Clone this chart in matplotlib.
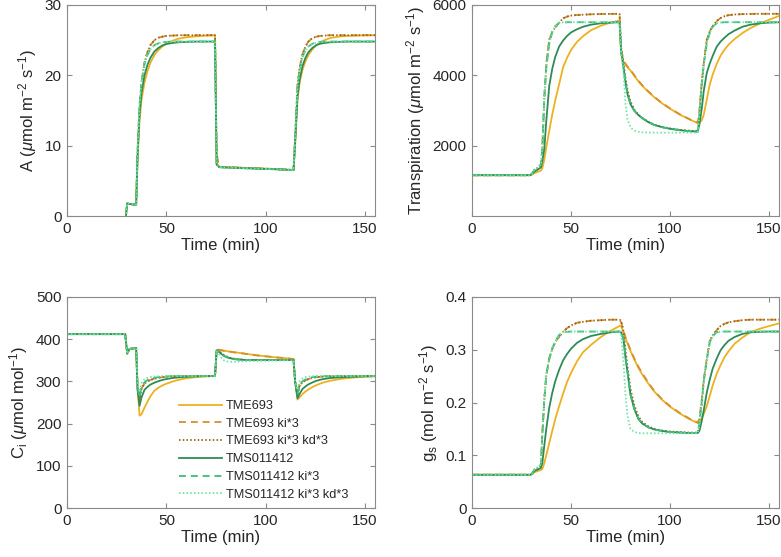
import numpy as np
import matplotlib
matplotlib.use('Agg')
import matplotlib.pyplot as plt

plt.rcParams['font.family'] = ['Liberation Sans', 'DejaVu Sans']
plt.rcParams['mathtext.fontset'] = 'custom'
plt.rcParams['mathtext.rm'] = 'Liberation Sans'
plt.rcParams['mathtext.it'] = 'Liberation Sans:italic'
plt.rcParams['lines.scale_dashes'] = False

# time points (min), grouped by light phase
time = [0, 29.3,
        30.3, 31.5, 34.8,
        35.5, 36.5, 37.5, 39, 40.5, 42, 44, 46, 48, 50, 53, 56, 60, 65, 70, 74.5,
        75.3, 76.5, 77.5, 78.5, 80, 82, 84, 86, 89, 92, 96, 100, 105, 110, 114,
        114.8, 116, 117, 118.5, 120, 121.5, 123.5, 125.5, 127.5, 129.5, 132.5, 136.5, 140.5, 145.5, 150, 155]

labels = ['TME693', 'TME693 ki*3', 'TME693 ki*3 kd*3',
          'TMS011412', 'TMS011412 ki*3', 'TMS011412 ki*3 kd*3']

# ---- A (umol m-2 s-1)
A_tme = [-1.0, -1.0,
         1.8, 1.7, 1.6,
         8.0, 13.5, 16.5, 19.0, 20.6, 21.8, 22.9, 23.6, 24.1, 24.5, 24.9, 25.2, 25.4, 25.55, 25.65, 25.7,
         7.5, 7.0, 6.98, 6.96, 6.94, 6.92, 6.9, 6.88, 6.85, 6.81, 6.77, 6.73, 6.67, 6.61, 6.55,
         10.0, 16.5, 18.8, 20.8, 22.0, 22.9, 23.7, 24.3, 24.7, 25.0, 25.3, 25.5, 25.6, 25.65, 25.7, 25.7]
A_tme_ki = [-1.0, -1.0,
            1.8, 1.7, 1.6,
            9.0, 15.5, 19.0, 21.8, 23.3, 24.3, 25.0, 25.35, 25.5, 25.6, 25.65, 25.7, 25.7, 25.7, 25.7, 25.7,
            9.0, 7.0, 6.98, 6.96, 6.94, 6.92, 6.9, 6.88, 6.85, 6.81, 6.77, 6.73, 6.67, 6.61, 6.55,
            11.0, 18.5, 21.0, 23.0, 24.1, 24.8, 25.3, 25.5, 25.6, 25.65, 25.7, 25.7, 25.7, 25.7, 25.7, 25.7]
A_tme_kikd = [-1.0, -1.0,
              1.8, 1.7, 1.6,
              9.0, 15.5, 19.0, 21.8, 23.3, 24.3, 25.0, 25.35, 25.5, 25.6, 25.65, 25.7, 25.7, 25.7, 25.7, 25.7,
              7.5, 7.0, 6.98, 6.96, 6.94, 6.92, 6.9, 6.88, 6.85, 6.81, 6.77, 6.73, 6.67, 6.61, 6.55,
              11.0, 18.5, 21.0, 23.0, 24.1, 24.8, 25.3, 25.5, 25.6, 25.65, 25.7, 25.7, 25.7, 25.7, 25.7, 25.7]
A_tms = [-1.0, -1.0,
         1.8, 1.7, 1.6,
         8.5, 14.5, 17.5, 20.0, 21.5, 22.5, 23.4, 23.9, 24.25, 24.45, 24.6, 24.7, 24.75, 24.8, 24.8, 24.8,
         7.3, 6.95, 6.93, 6.91, 6.89, 6.87, 6.85, 6.83, 6.8, 6.77, 6.73, 6.69, 6.64, 6.58, 6.52,
         10.5, 17.0, 19.3, 21.3, 22.5, 23.3, 23.9, 24.3, 24.5, 24.6, 24.7, 24.75, 24.8, 24.8, 24.8, 24.8]
A_tms_ki = [-1.0, -1.0,
            1.8, 1.7, 1.6,
            9.0, 15.8, 19.0, 21.6, 22.9, 23.7, 24.3, 24.55, 24.7, 24.75, 24.8, 24.8, 24.8, 24.8, 24.8, 24.8,
            7.3, 6.95, 6.93, 6.91, 6.89, 6.87, 6.85, 6.83, 6.8, 6.77, 6.73, 6.69, 6.64, 6.58, 6.52,
            11.0, 18.3, 20.6, 22.6, 23.6, 24.1, 24.5, 24.65, 24.75, 24.8, 24.8, 24.8, 24.8, 24.8, 24.8, 24.8]
A_tms_kikd = [-1.0, -1.0,
              1.8, 1.7, 1.6,
              9.0, 15.8, 19.0, 21.6, 22.9, 23.7, 24.3, 24.55, 24.7, 24.75, 24.8, 24.8, 24.8, 24.8, 24.8, 24.8,
              7.3, 6.95, 6.93, 6.91, 6.89, 6.87, 6.85, 6.83, 6.8, 6.77, 6.73, 6.69, 6.64, 6.58, 6.52,
              11.0, 18.3, 20.6, 22.6, 23.6, 24.1, 24.5, 24.65, 24.75, 24.8, 24.8, 24.8, 24.8, 24.8, 24.8, 24.8]

# ---- Transpiration (umol m-2 s-1)
E_tme = [1160, 1160,
         1180, 1220, 1290,
         1350, 1600, 1950, 2420, 2880, 3280, 3750, 4230, 4500, 4720, 4950, 5110, 5280, 5410, 5500, 5560,
         4600, 4380, 4300, 4230, 4140, 3980, 3830, 3700, 3530, 3380, 3200, 3050, 2880, 2740, 2640,
         2660, 2720, 2880, 3300, 3730, 4020, 4320, 4560, 4730, 4870, 5030, 5200, 5340, 5480, 5580, 5690]
E_tme_ki = [1160, 1160,
            1200, 1300, 1450,
            1900, 3300, 4300, 5020, 5230, 5360, 5500, 5620, 5670, 5700, 5715, 5725, 5735, 5745, 5747, 5750,
            4700, 4420, 4330, 4250, 4160, 4000, 3850, 3715, 3545, 3390, 3210, 3060, 2890, 2750, 2650,
            3000, 3800, 4350, 5000, 5250, 5400, 5540, 5630, 5680, 5710, 5730, 5740, 5747, 5750, 5750, 5750]
E_tme_kikd = [1160, 1160,
              1200, 1300, 1450,
              1900, 3300, 4300, 5020, 5230, 5360, 5500, 5620, 5670, 5700, 5715, 5725, 5735, 5745, 5747, 5750,
              4800, 4350, 3920, 3580, 3260, 3020, 2880, 2790, 2680, 2600, 2530, 2490, 2450, 2425, 2415,
              2900, 3750, 4330, 5000, 5250, 5400, 5540, 5630, 5680, 5710, 5730, 5740, 5747, 5750, 5750, 5750]
E_tms = [1160, 1160,
         1190, 1260, 1380,
         1550, 1900, 2700, 3700, 4180, 4520, 4820, 4990, 5120, 5220, 5310, 5380, 5440, 5480, 5500, 5510,
         4700, 4220, 3800, 3470, 3180, 2990, 2870, 2780, 2670, 2590, 2525, 2480, 2440, 2410, 2400,
         2600, 3050, 3550, 4060, 4330, 4550, 4810, 4960, 5070, 5170, 5270, 5380, 5440, 5480, 5500, 5510]
E_tms_ki = [1160, 1160,
            1200, 1310, 1460,
            1900, 3400, 4200, 4900, 5230, 5400, 5490, 5505, 5510, 5510, 5510, 5510, 5510, 5510, 5510, 5510,
            4700, 4220, 3800, 3470, 3180, 2990, 2870, 2780, 2670, 2590, 2525, 2480, 2440, 2410, 2400,
            2900, 3750, 4300, 4900, 5200, 5380, 5480, 5500, 5510, 5510, 5510, 5510, 5510, 5510, 5510, 5510]
E_tms_kikd = [1160, 1160,
              1200, 1310, 1460,
              1900, 3400, 4200, 4900, 5230, 5400, 5490, 5505, 5510, 5510, 5510, 5510, 5510, 5510, 5510, 5510,
              4600, 4100, 3200, 2750, 2520, 2430, 2395, 2380, 2372, 2370, 2370, 2370, 2370, 2370, 2370,
              2870, 3750, 4300, 4900, 5200, 5380, 5480, 5500, 5510, 5510, 5510, 5510, 5510, 5510, 5510, 5510]

# ---- Ci (umol mol-1)
Ci_tme = [412, 412,
          366, 377, 379,
          290, 219, 222, 238, 252, 265, 278, 285, 290.5, 294.5, 299.5, 303.5, 307.5, 310.2, 311.8, 312.5,
          374, 375, 374, 373, 372, 370.5, 369, 368, 366, 364, 361.5, 359.5, 357, 355, 353,
          300, 257, 262, 270, 276, 281, 286.5, 291, 295, 298, 301.5, 305, 307.5, 309.7, 311, 312]
Ci_tme_ki = [412, 412,
             366, 377, 379,
             285, 254, 283, 295, 300, 303.5, 306.5, 308.5, 310, 311, 312, 312.5, 312.7, 312.8, 312.8, 312.8,
             374, 375, 374, 373, 372, 370.5, 369, 368, 366, 364, 361.5, 359.5, 357, 355, 353,
             300, 266, 290, 298, 302.5, 305.5, 308.5, 310, 311, 311.5, 312, 312.3, 312.5, 312.7, 312.8, 312.8]
Ci_tme_kikd = [412, 412,
               366, 377, 379,
               285, 254, 283, 295, 300, 303.5, 306.5, 308.5, 310, 311, 312, 312.5, 312.7, 312.8, 312.8, 312.8,
               374, 372, 368, 364, 360, 356, 354, 352.5, 351.5, 351, 350.7, 350.5, 350.5, 350.5, 350.5,
               300, 266, 290, 298, 302.5, 305.5, 308.5, 310, 311, 311.5, 312, 312.3, 312.5, 312.7, 312.8, 312.8]
Ci_tms = [412, 412,
          366, 377, 379,
          280, 242, 262, 280, 287, 292.5, 297, 300.5, 303.5, 305.5, 308, 309.5, 311, 312, 312.5, 312.8,
          373, 370, 366, 362, 358, 355, 353, 352, 351, 350.7, 350.5, 350.5, 350.5, 350.5, 350.5,
          300, 260, 270, 282, 288, 293, 297.5, 301.5, 304, 306, 308, 309.5, 310.5, 311.2, 312, 312.5]
Ci_tms_ki = [412, 412,
             366, 377, 379,
             288, 262, 287, 298, 303, 306, 308.5, 310, 311, 311.8, 312.3, 312.8, 312.8, 312.8, 312.8, 312.8,
             373, 370, 366, 362, 358, 355, 353, 352, 351, 350.7, 350.5, 350.5, 350.5, 350.5, 350.5,
             300, 270, 292, 300, 304.5, 307.5, 310, 311.2, 311.8, 312.3, 312.5, 312.7, 312.8, 312.8, 312.8, 312.8]
Ci_tms_kikd = [412, 412,
               366, 377, 379,
               292, 275, 296, 305, 308.5, 310.5, 311.5, 312, 312.5, 312.8, 312.8, 312.8, 312.8, 312.8, 312.8, 312.8,
               372, 365, 357, 351, 347.5, 346.5, 346.5, 347, 347.5, 348, 348.5, 349, 349.5, 350, 350,
               300, 280, 300, 307, 310, 311.5, 312.3, 312.6, 312.8, 312.8, 312.8, 312.8, 312.8, 312.8, 312.8, 312.8]

# ---- gs (mol m-2 s-1)
gs_tme = [0.063, 0.063,
          0.064, 0.068, 0.072,
          0.074, 0.085, 0.100, 0.123, 0.146, 0.168, 0.193, 0.217, 0.239, 0.256, 0.278, 0.295, 0.309, 0.324, 0.336, 0.345,
          0.345, 0.332, 0.321, 0.312, 0.298, 0.281, 0.266, 0.253, 0.236, 0.221, 0.205, 0.192, 0.179, 0.168, 0.161,
          0.163, 0.170, 0.178, 0.193, 0.212, 0.232, 0.254, 0.271, 0.286, 0.297, 0.311, 0.323, 0.333, 0.340, 0.345, 0.350]
gs_tme_ki = [0.063, 0.063,
             0.065, 0.072, 0.080,
             0.140, 0.205, 0.252, 0.283, 0.302, 0.314, 0.325, 0.334, 0.341, 0.346, 0.351, 0.353, 0.355, 0.356, 0.357, 0.357,
             0.352, 0.336, 0.324, 0.314, 0.300, 0.283, 0.268, 0.255, 0.238, 0.222, 0.206, 0.193, 0.180, 0.169, 0.162,
             0.170, 0.205, 0.243, 0.282, 0.316, 0.327, 0.337, 0.345, 0.349, 0.352, 0.354, 0.356, 0.357, 0.357, 0.357, 0.357]
gs_tme_kikd = [0.063, 0.063,
               0.065, 0.072, 0.080,
               0.140, 0.205, 0.252, 0.283, 0.302, 0.314, 0.325, 0.334, 0.341, 0.346, 0.351, 0.353, 0.355, 0.356, 0.357, 0.357,
               0.355, 0.335, 0.300, 0.268, 0.226, 0.194, 0.174, 0.163, 0.155, 0.150, 0.147, 0.145, 0.144, 0.143, 0.143,
               0.160, 0.200, 0.240, 0.280, 0.315, 0.327, 0.337, 0.345, 0.349, 0.352, 0.354, 0.356, 0.357, 0.357, 0.357, 0.357]
gs_tms = [0.063, 0.063,
          0.064, 0.070, 0.076,
          0.085, 0.118, 0.150, 0.190, 0.218, 0.240, 0.262, 0.280, 0.292, 0.302, 0.313, 0.320, 0.326, 0.330, 0.333, 0.3345,
          0.333, 0.320, 0.285, 0.258, 0.215, 0.187, 0.169, 0.160, 0.153, 0.149, 0.146, 0.144, 0.143, 0.142, 0.142,
          0.146, 0.165, 0.185, 0.218, 0.243, 0.264, 0.283, 0.299, 0.309, 0.317, 0.324, 0.330, 0.333, 0.334, 0.3345, 0.3345]
gs_tms_ki = [0.063, 0.063,
             0.065, 0.073, 0.082,
             0.140, 0.205, 0.252, 0.283, 0.302, 0.316, 0.328, 0.333, 0.334, 0.3345, 0.3345, 0.3345, 0.3345, 0.3345, 0.3345, 0.3345,
             0.333, 0.320, 0.285, 0.258, 0.215, 0.187, 0.169, 0.160, 0.153, 0.149, 0.146, 0.144, 0.143, 0.142, 0.142,
             0.160, 0.200, 0.240, 0.280, 0.313, 0.326, 0.333, 0.3345, 0.3345, 0.3345, 0.3345, 0.3345, 0.3345, 0.3345, 0.3345, 0.3345]
gs_tms_kikd = [0.063, 0.063,
               0.065, 0.073, 0.082,
               0.140, 0.205, 0.252, 0.283, 0.302, 0.316, 0.328, 0.333, 0.334, 0.3345, 0.3345, 0.3345, 0.3345, 0.3345, 0.3345, 0.3345,
               0.330, 0.275, 0.215, 0.175, 0.150, 0.144, 0.142, 0.1416, 0.1416, 0.1416, 0.1416, 0.1416, 0.1416, 0.1416, 0.1416,
               0.157, 0.200, 0.240, 0.280, 0.313, 0.326, 0.333, 0.3345, 0.3345, 0.3345, 0.3345, 0.3345, 0.3345, 0.3345, 0.3345, 0.3345]

colors = ['#EDB120', '#D4902E', '#9C6418', '#2E8B57', '#3DBB78', '#6FE3A4']
styles = ['-', (0, (5, 3.5)), (0, (1.1, 1.6)), '-', (0, (5, 3.5)), (0, (1.1, 1.6))]

spine_col = '#8a8a8a'
text_col = '#262626'


def plot_panel(ax, series, ylabel, ylim, yticks):
    for i in range(len(series)):
        ax.plot(time, series[i], color=colors[i], linestyle=styles[i],
                linewidth=1.3, label=labels[i])
    ax.set_xlim([0, 155])
    ax.set_ylim(ylim)
    ax.set_xticks([0, 50, 100, 150])
    ax.set_yticks(yticks)
    ax.set_xlabel('Time (min)', fontsize=12, color=text_col, labelpad=2)
    ax.set_ylabel(ylabel, fontsize=12, color=text_col, labelpad=4)
    ax.tick_params(direction='in', length=3.5, width=0.8, top=True, right=True,
                   labelsize=11, colors=spine_col, labelcolor=text_col, pad=4)
    for s in ax.spines.values():
        s.set_color(spine_col)
        s.set_linewidth(0.8)


fig = plt.figure(figsize=(7.81, 5.57), dpi=100)

ax1 = fig.add_axes([67 / 781, 1 - 216 / 557, 308 / 781, 211 / 557])
ax2 = fig.add_axes([472 / 781, 1 - 216 / 557, 307 / 781, 211 / 557])
ax3 = fig.add_axes([67 / 781, 1 - 508 / 557, 308 / 781, 211 / 557])
ax4 = fig.add_axes([472 / 781, 1 - 508 / 557, 307 / 781, 211 / 557])

plot_panel(ax1, [A_tme, A_tme_ki, A_tme_kikd, A_tms, A_tms_ki, A_tms_kikd],
           r'A ($\mu$mol m$^{-2}$ s$^{-1}$)', [0, 30], [0, 10, 20, 30])
plot_panel(ax2, [E_tme, E_tme_ki, E_tme_kikd, E_tms, E_tms_ki, E_tms_kikd],
           r'Transpiration ($\mu$mol m$^{-2}$ s$^{-1}$)', [0, 6000], [2000, 4000, 6000])
plot_panel(ax3, [Ci_tme, Ci_tme_ki, Ci_tme_kikd, Ci_tms, Ci_tms_ki, Ci_tms_kikd],
           r'C$_{\rm i}$ ($\mu$mol mol$^{-1}$)', [0, 500], [0, 100, 200, 300, 400, 500])
plot_panel(ax4, [gs_tme, gs_tme_ki, gs_tme_kikd, gs_tms, gs_tms_ki, gs_tms_kikd],
           r'g$_{\rm s}$ (mol m$^{-2}$ s$^{-1}$)', [0, 0.4], [0, 0.1, 0.2, 0.3, 0.4])
ax4.set_yticklabels(['0', '0.1', '0.2', '0.3', '0.4'])

leg = ax3.legend(loc='upper left', bbox_to_anchor=((179 - 67) / 308, (508 - 400) / 211),
                 frameon=False, fontsize=9.2, handlelength=3.4, handletextpad=0.25,
                 labelspacing=0.45, borderpad=0, borderaxespad=0)
for t in leg.get_texts():
    t.set_color(text_col)

plt.savefig('out.png', dpi=100)
